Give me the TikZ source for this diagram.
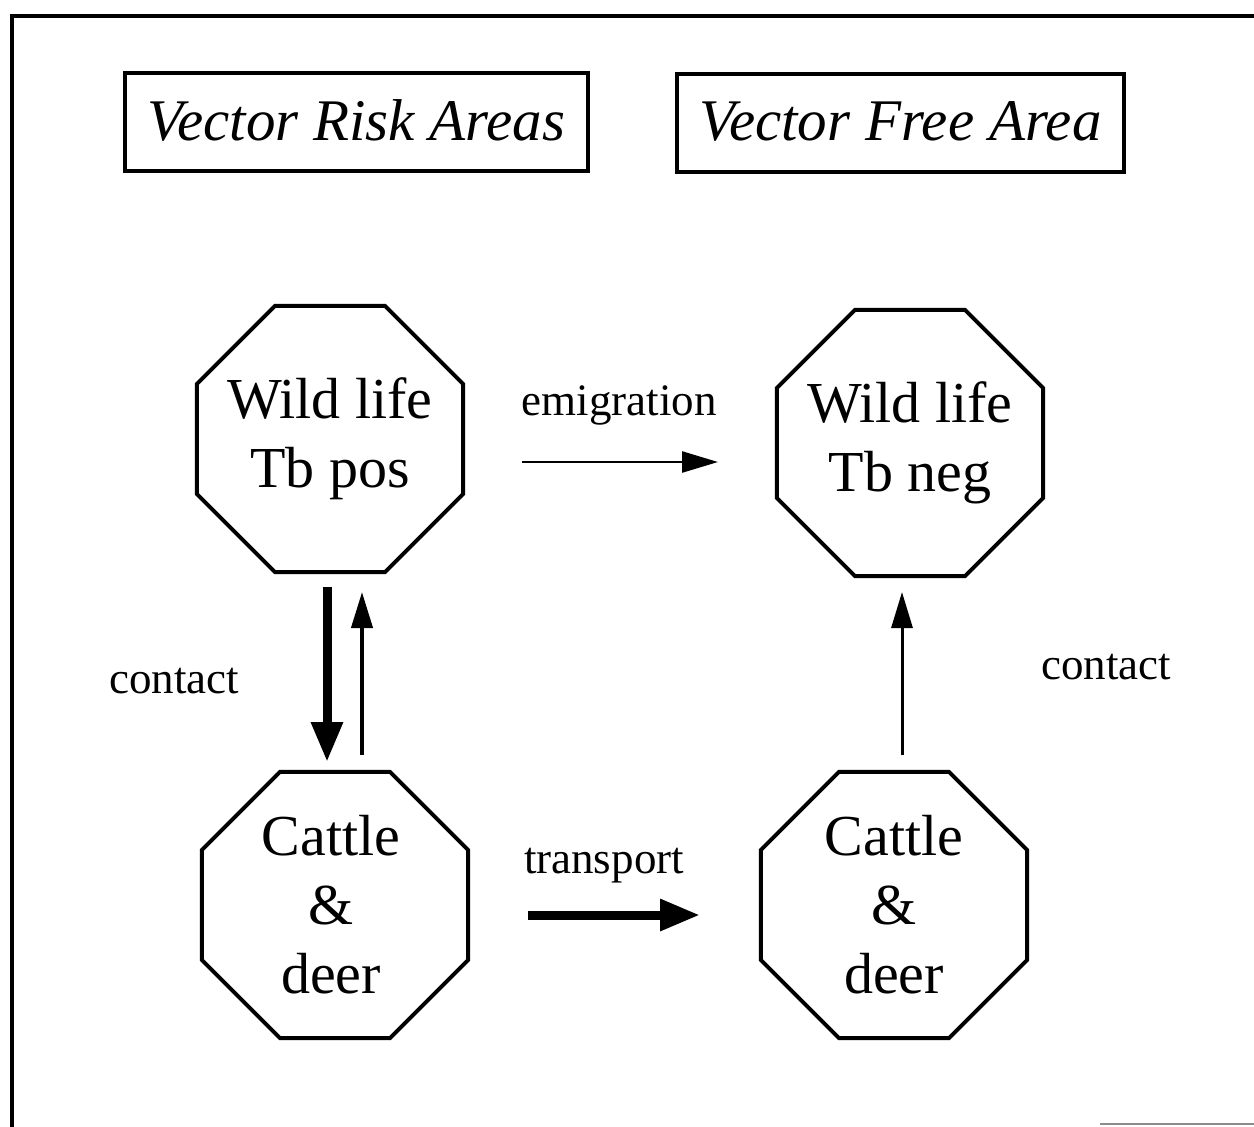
\documentclass[tikz,border=0pt]{standalone}
\usepackage{fontspec}
\setmainfont{Liberation Serif}
\usetikzlibrary{arrows.meta,shapes.geometric}
\tikzset{
  oct/.style={draw, line width=2pt, regular polygon, regular polygon sides=8,
    minimum size=144pt, inner sep=0pt},
  octtext/.style={inner sep=0pt, align=center,
    font=\fontsize{29}{34.5}\selectfont},
  titlebox/.style={draw, line width=2pt, inner sep=0pt, minimum height=49pt,
    font=\fontsize{29.5}{34}\selectfont\itshape},
  lbl/.style={anchor=base, inner sep=0pt, font=\fontsize{22.5}{27}\selectfont},
  thinarrow/.style={line width=1.5pt, -{Triangle[length=18pt, width=10.5pt]}},
  thickarrow/.style={line width=4.5pt, -{Triangle[length=20pt, width=15pt]}},
}
\begin{document}
\begin{tikzpicture}[x=0.5pt, y=-0.5pt]
\useasboundingbox (0,0) rectangle (1254,1126);
% outer frame
\draw[line width=2.2pt] (12,1130) -- (12,16) -- (1260,16);
\draw[line width=1pt, black!45] (1100,1124) -- (1260,1124);
% titles
\node[titlebox, minimum width=231.5pt] (t1) at (356.5,122) {\raisebox{1.5pt}{Vector Risk Areas}};
\node[titlebox, minimum width=223.5pt] (t2) at (900.5,122.5) {\raisebox{1.5pt}{Vector Free Area}};
% octagons
\node[oct] (wp) at (330,439) {};
\node[oct] (wn) at (910,443) {};
\node[oct] (cl) at (335,905) {};
\node[oct] (cr) at (894,905) {};
\node[octtext] (wpt) at (wp.center) {Wild life\\Tb pos};
\node[octtext] (wnt) at (wn.center) {Wild life\\Tb neg};
\node[octtext] (clt) at ([xshift=-2]cl.center) {Cattle\\\&\\deer};
\node[octtext] (crt) at (cr.center) {Cattle\\\&\\deer};
% arrow end points
\coordinate (e1) at (522,462);
\coordinate (e2) at (718,462);
\coordinate (d1) at (327,587);
\coordinate (d2) at (327,762);
\coordinate (u1) at (362,755);
\coordinate (u2) at (362,592);
\coordinate (r1) at (902,755);
\coordinate (r2) at (902,592);
\coordinate (p1) at (528,915);
\coordinate (p2) at (700,915);
% connectors
\draw[thinarrow, line width=1.3pt] (e1) -- (e2);
\draw[thickarrow] (d1) -- (d2);
\draw[thinarrow, line width=2pt] (u1) -- (u2);
\draw[thinarrow] (r1) -- (r2);
\draw[thickarrow] (p1) -- (p2);
% labels
\node[lbl] (lem) at (619,415) {emigration};
\node[lbl] (ltr) at (604,873) {transport};
\node[lbl] (lc1) at (174,693) {contact};
\node[lbl] (lc2) at (1106,679) {contact};
\end{tikzpicture}
\end{document}
